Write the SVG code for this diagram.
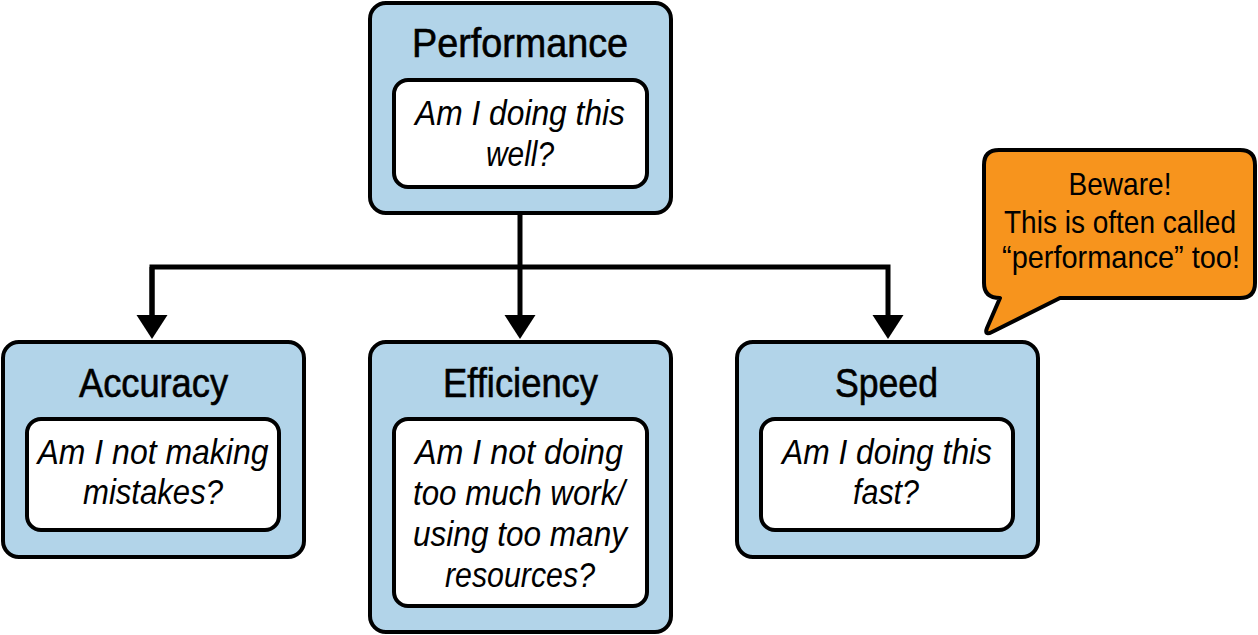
<svg xmlns="http://www.w3.org/2000/svg" width="1258" height="635" viewBox="0 0 1258 635">
  <style>
    .outer { fill: #b2d4e9; stroke: #000; stroke-width: 4; }
    .inner { fill: #fff; stroke: #000; stroke-width: 4; }
    .title { font-family: "Liberation Sans", Arial, sans-serif; font-size: 40px; fill: #000; stroke: #000; stroke-width: 0.6; text-anchor: middle; }
    .q { font-family: "Liberation Sans", Arial, sans-serif; font-style: italic; font-size: 35px; fill: #000; text-anchor: middle; }
    .note { font-family: "Liberation Sans", Arial, sans-serif; font-size: 32px; fill: #000; text-anchor: middle; }
    .conn { fill: none; stroke: #000; stroke-width: 5; }
  </style>
  <defs>
    <marker id="arrow" markerUnits="userSpaceOnUse" markerWidth="26" markerHeight="32" viewBox="0 -16 26 32" refX="0" refY="0" orient="auto">
      <path d="M0,-15.5 L24,0 L0,15.5 Z" fill="#000"/>
    </marker>
  </defs>

  <g id="connectors">
    <path class="conn" d="M520,214 V315" marker-end="url(#arrow)"/>
    <path class="conn" d="M152,315 V267 H888 V315" marker-end="url(#arrow)"/>
    <path class="conn" d="M152,267 V315" marker-end="url(#arrow)"/>
  </g>

  <g id="performance">
    <rect class="outer" x="370" y="3" width="301" height="210" rx="16"/>
    <rect class="inner" x="394" y="80" width="253" height="107" rx="14"/>
    <text class="title" x="520" y="57" textLength="216" lengthAdjust="spacingAndGlyphs">Performance</text>
    <text class="q" x="520" y="125" textLength="210" lengthAdjust="spacingAndGlyphs">Am I doing this</text>
    <text class="q" x="520" y="166" textLength="68" lengthAdjust="spacingAndGlyphs">well?</text>
  </g>

  <g id="accuracy">
    <rect class="outer" x="3" y="342" width="301" height="215" rx="16"/>
    <rect class="inner" x="27" y="419" width="252" height="111" rx="14"/>
    <text class="title" x="153.5" y="397" textLength="149" lengthAdjust="spacingAndGlyphs">Accuracy</text>
    <text class="q" x="153" y="464" textLength="231" lengthAdjust="spacingAndGlyphs">Am I not making</text>
    <text class="q" x="153" y="504" textLength="140" lengthAdjust="spacingAndGlyphs">mistakes?</text>
  </g>

  <g id="efficiency">
    <rect class="outer" x="370" y="342" width="301" height="290" rx="16"/>
    <rect class="inner" x="394" y="419" width="253" height="187" rx="14"/>
    <text class="title" x="520.5" y="397" textLength="155" lengthAdjust="spacingAndGlyphs">Efficiency</text>
    <text class="q" x="519" y="464" textLength="208" lengthAdjust="spacingAndGlyphs">Am I not doing</text>
    <text class="q" x="519" y="505" textLength="212" lengthAdjust="spacingAndGlyphs">too much work/</text>
    <text class="q" x="520" y="546" textLength="214" lengthAdjust="spacingAndGlyphs">using too many</text>
    <text class="q" x="520" y="587" textLength="150" lengthAdjust="spacingAndGlyphs">resources?</text>
  </g>

  <g id="speed">
    <rect class="outer" x="737" y="342" width="301" height="215" rx="16"/>
    <rect class="inner" x="761" y="419" width="252" height="111" rx="14"/>
    <text class="title" x="886.5" y="397" textLength="103" lengthAdjust="spacingAndGlyphs">Speed</text>
    <text class="q" x="887" y="464" textLength="210" lengthAdjust="spacingAndGlyphs">Am I doing this</text>
    <text class="q" x="886" y="504" textLength="66" lengthAdjust="spacingAndGlyphs">fast?</text>
  </g>

  <g id="callout">
    <path d="M999,150 H1240 Q1255,150 1255,165 V283 Q1255,298 1240,298 H1060 L992,332 Q984,336 987,328 L1000,298 Q984,298 984,283 V165 Q984,150 999,150 Z" fill="#f7941d" stroke="#000" stroke-width="4" stroke-linejoin="round"/>
    <text class="note" x="1120" y="195" textLength="103" lengthAdjust="spacingAndGlyphs">Beware!</text>
    <text class="note" x="1120" y="233" textLength="232" lengthAdjust="spacingAndGlyphs">This is often called</text>
    <text class="note" x="1121" y="268" textLength="238" lengthAdjust="spacingAndGlyphs">“performance” too!</text>
  </g>
</svg>
